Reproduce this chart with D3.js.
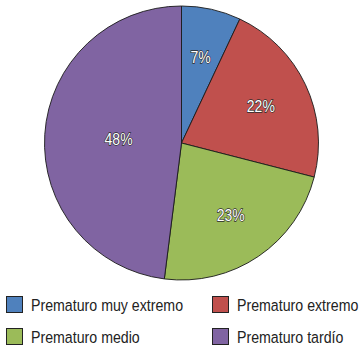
<!DOCTYPE html>
<html>
<head>
<meta charset="utf-8">
<script src="https://cdn.jsdelivr.net/npm/d3@7"></script>
<style>
  body { margin: 0; background: #fff; }
  svg { display: block; }
  .lbl { font-family: "Liberation Sans", Arial, sans-serif; }
</style>
</head>
<body>
<svg id="chart" width="361" height="348"></svg>
<script>
// datos del grafico
const categorias = ['Prematuro muy extremo', 'Prematuro extremo', 'Prematuro medio', 'Prematuro tardío']
const valores = [7, 22, 23, 48]
const colores = ['#4f81bd', '#c0504d', '#9bbb59', '#8064a2']

const svg = d3.select('#chart')
const cx = 181.5, cy = 143, radio = 137
const estrecho = 0.85 // fuente estrecha tipo Arial Narrow

/* Tarta */
const pie = d3.pie().sort(null).value(d => d)
const arco = d3.arc().innerRadius(0).outerRadius(radio)
const arcoLbl = d3.arc().innerRadius(radio * 0.64).outerRadius(radio * 0.64)
const arcoLblGrande = d3.arc().innerRadius(radio * 0.46).outerRadius(radio * 0.46)

const g = svg.append('g').attr('transform', `translate(${cx},${cy})`)
const trozos = pie(valores)

g.selectAll('path')
  .data(trozos)
  .enter().append('path')
  .attr('d', arco)
  .attr('fill', (d, i) => colores[i])
  .attr('stroke', '#1a1a1a')
  .attr('stroke-width', 0.9)

g.selectAll('text')
  .data(trozos)
  .enter().append('text')
  .attr('class', 'lbl')
  .attr('transform', d => {
    const a = d.data > 40 ? arcoLblGrande : arcoLbl
    return `translate(${a.centroid(d)}) scale(${estrecho},1)`
  })
  .attr('text-anchor', 'middle')
  .attr('dy', '0.36em')
  .attr('font-size', 16.5)
  .attr('fill', '#fff')
  .attr('stroke', '#2a2a2a')
  .attr('stroke-width', 1.3)
  .attr('paint-order', 'stroke')
  .text(d => d.data + '%')

/* Leyenda */
const leyenda = svg.append('g')
const colX = [6, 212]
const filaY = [296, 328]

categorias.forEach((c, i) => {
  const x = colX[i % 2], y = filaY[Math.floor(i / 2)]
  leyenda.append('rect')
    .attr('x', x + 0.5).attr('y', y + 0.5)
    .attr('width', 16).attr('height', 16)
    .attr('fill', colores[i])
    .attr('stroke', '#222')
    .attr('stroke-width', 1)
  leyenda.append('text')
    .attr('class', 'lbl')
    .attr('transform', `translate(${x + 25},${y + 15}) scale(0.86,1)`)
    .attr('font-size', 16.5)
    .attr('fill', '#222')
    .text(c)
})
</script>
</body>
</html>
